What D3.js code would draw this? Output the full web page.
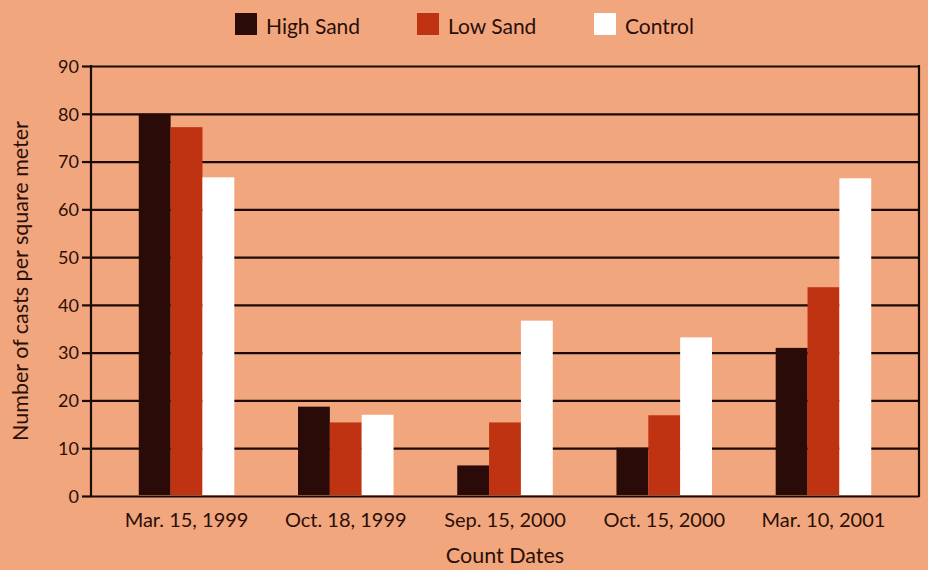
<!DOCTYPE html>
<html>
<head>
<meta charset="utf-8">
<script src="https://cdn.jsdelivr.net/npm/d3@7"></script>
<style>
  html, body { margin: 0; padding: 0; background: #F1A67E; }
  svg { display: block; }
  text { font-family: Lato, "Open Sans", sans-serif; fill: #2a0f08; }
</style>
</head>
<body>
<svg id="chart" width="928" height="570"></svg>
<script>
const categories = ["Mar. 15, 1999", "Oct. 18, 1999", "Sep. 15, 2000", "Oct. 15, 2000", "Mar. 10, 2001"];
const seriesNames = ["High Sand", "Low Sand", "Control"];
const highSand = [80, 18.7, 6.4, 10.1, 31];
const lowSand = [77.2, 15.4, 15.4, 16.9, 43.7];
const control = [66.7, 17.0, 36.7, 33.2, 66.5];
const yTicks = [0, 10, 20, 30, 40, 50, 60, 70, 80, 90];
const colors = ["#2a0b08", "#BF3312", "#FFFFFF"];

const values = [highSand, lowSand, control];
const data = categories.map((c, i) => ({ cat: c, vals: seriesNames.map((s, j) => ({ s, v: values[j][i] })) }));

const svg = d3.select("#chart");
const pLeft = 91, pRight = 919, pTop = 66, pBottom = 496;
const ink = "#1c0a05";

const x = d3.scaleBand().domain(categories).range([pLeft, pRight]).paddingInner(0.4).paddingOuter(0.3);
const xs = d3.scaleBand().domain(seriesNames).range([0, x.bandwidth()]).padding(0);
const y = d3.scaleLinear().domain([0, 90]).range([pBottom, pTop]);

// gridlines + ticks
const yAxis = d3.axisLeft(y).tickValues(yTicks).tickSize(-(pRight - pLeft)).tickSizeOuter(0).tickFormat(d3.format("d"));
const gy = svg.append("g").attr("transform", `translate(${pLeft},0)`).call(yAxis);
gy.select(".domain").remove();
gy.selectAll(".tick line").attr("stroke", ink).attr("stroke-width", 2.2);
gy.selectAll(".tick").append("line").attr("x1", -9).attr("x2", 0).attr("stroke", ink).attr("stroke-width", 2.2);
gy.selectAll(".tick text").attr("font-size", 18).attr("font-family", "Lato, sans-serif").attr("fill", "#2a0f08").attr("dy", "0.35em").attr("x", -12);

// frame
svg.append("line").attr("x1", pLeft).attr("x2", pLeft).attr("y1", pTop - 1).attr("y2", pBottom + 1).attr("stroke", ink).attr("stroke-width", 2.2);
svg.append("line").attr("x1", pRight).attr("x2", pRight).attr("y1", pTop - 1).attr("y2", pBottom + 1).attr("stroke", ink).attr("stroke-width", 2.2);

// bars
const groups = svg.append("g").selectAll("g").data(data).join("g")
  .attr("transform", d => `translate(${x(d.cat)},0)`);
groups.selectAll("rect").data(d => d.vals).join("rect")
  .attr("x", d => xs(d.s))
  .attr("width", xs.bandwidth())
  .attr("y", d => y(d.v))
  .attr("height", d => y(0) - y(d.v) - 1)
  .attr("fill", (d, i) => colors[i]);

// bottom axis labels
const xAxis = d3.axisBottom(x).tickSize(0).tickPadding(17);
const gx = svg.append("g").attr("transform", `translate(0,${pBottom})`).call(xAxis);
gx.select(".domain").remove();
gx.selectAll(".tick text").attr("font-size", 20).attr("font-family", "Lato, sans-serif").attr("fill", "#2a0f08");

// axis titles
svg.append("text").attr("x", 505).attr("y", 563).attr("text-anchor", "middle").attr("font-size", 21.5).text("Count Dates");
svg.append("text").attr("transform", "translate(28,281) rotate(-90)").attr("text-anchor", "middle").attr("font-size", 21.5).text("Number of casts per square meter");

// legend
const legendX = [235, 417, 594];
const lg = svg.append("g").selectAll("g").data(seriesNames).join("g")
  .attr("transform", (d, i) => `translate(${legendX[i]},13)`);
lg.append("rect").attr("width", 22).attr("height", 22).attr("fill", (d, i) => colors[i]);
lg.append("text").attr("x", 31).attr("y", 21).attr("font-size", 21).text(d => d);
</script>
</body>
</html>
